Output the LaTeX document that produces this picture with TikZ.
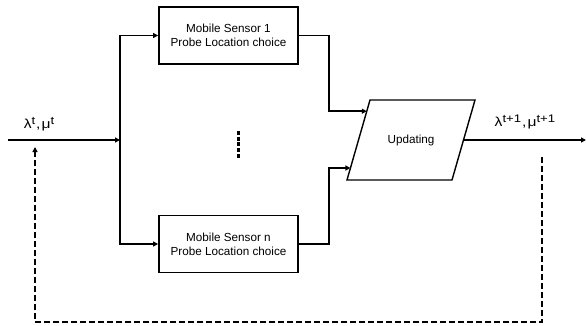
\documentclass[tikz,border=0pt]{standalone}
\usepackage{fontspec}
\setmainfont{Liberation Sans}
\newfontfamily\lblfont[FakeStretch=1.2]{Liberation Sans}
\usetikzlibrary{arrows.meta,calc}
\newcommand\supx[1]{\raisebox{0.55ex}{\fontsize{11}{12}\selectfont#1}}

\begin{document}
\begin{tikzpicture}[x=1pt,y=-1pt,
  >={Triangle[length=5pt,width=5pt]},
  wire/.style={line width=1.4pt},
  feedback/.style={line width=1.8pt,dash pattern=on 6pt off 3pt},
  sensorbox/.style={draw,line width=1.8pt,minimum width=139pt,minimum height=57pt,
    align=center,inner sep=0pt,font=\fontsize{11.7}{14}\selectfont},
  lbl/.style={inner sep=0pt,font=\lblfont\fontsize{13}{15}\selectfont}]
  \useasboundingbox (0,0) rectangle (586,326);

  % sensors
  \node[sensorbox] (s1) at (228.5,35.5) {Mobile Sensor 1\\Probe Location choice};
  \node[sensorbox] (sn) at (228.5,244) {Mobile Sensor n\\Probe Location choice};

  % update step, a slanted box
  \coordinate (ubl) at (347,180);
  \coordinate (ubr) at (452,180);
  \coordinate (utr) at (475,100);
  \coordinate (utl) at (370,100);
  \draw[line width=1.4pt,line join=miter] (ubl) -- (ubr) -- (utr) -- (utl) -- cycle;
  \node[font=\fontsize{11.7}{14}\selectfont] (upd) at (411,140) {Updating};
  \coordinate (u1) at ($(ubl)!0.86!(utl)$);
  \coordinate (u2) at ($(ubl)!0.15!(utl)$);
  \coordinate (uout) at ($(ubr)!0.5!(utr)$);

  \coordinate (in) at (8,140);
  \coordinate (split) at (120,140);
  \coordinate (out) at (586,140);

  % fan out to the sensors
  \draw[wire,->] (in) -- (split);
  \draw[wire,->] (split) |- (s1.west);
  \draw[wire,->] (split) |- (sn.west);

  % sensors back into the update
  \draw[wire,->] (s1.east) -- ++(30,0) |- (u1);
  \draw[wire,->] (sn.east) -- ++(30,0) |- (u2);
  \draw[wire,->] (uout) -- (out);

  % sensors 2 .. n-1
  \draw[line width=3.5pt,dash pattern=on 4pt off 1.7pt] (238.5,131) -- (238.5,158);

  \node[lbl] (lin) at (39,124) {λ\supx{t}\kern1pt,\kern1ptμ\supx{t}};
  \node[lbl] (lout) at (525,122) {λ\supx{t+1}\kern1pt,\kern1ptμ\supx{t+1}};

  % next round
  \coordinate (fbs) at (542,157);
  \coordinate (fbe) at (35,147);
  \draw[feedback,->] (fbs) -- (fbs |- 0,322) -| (fbe);
\end{tikzpicture}
\end{document}
